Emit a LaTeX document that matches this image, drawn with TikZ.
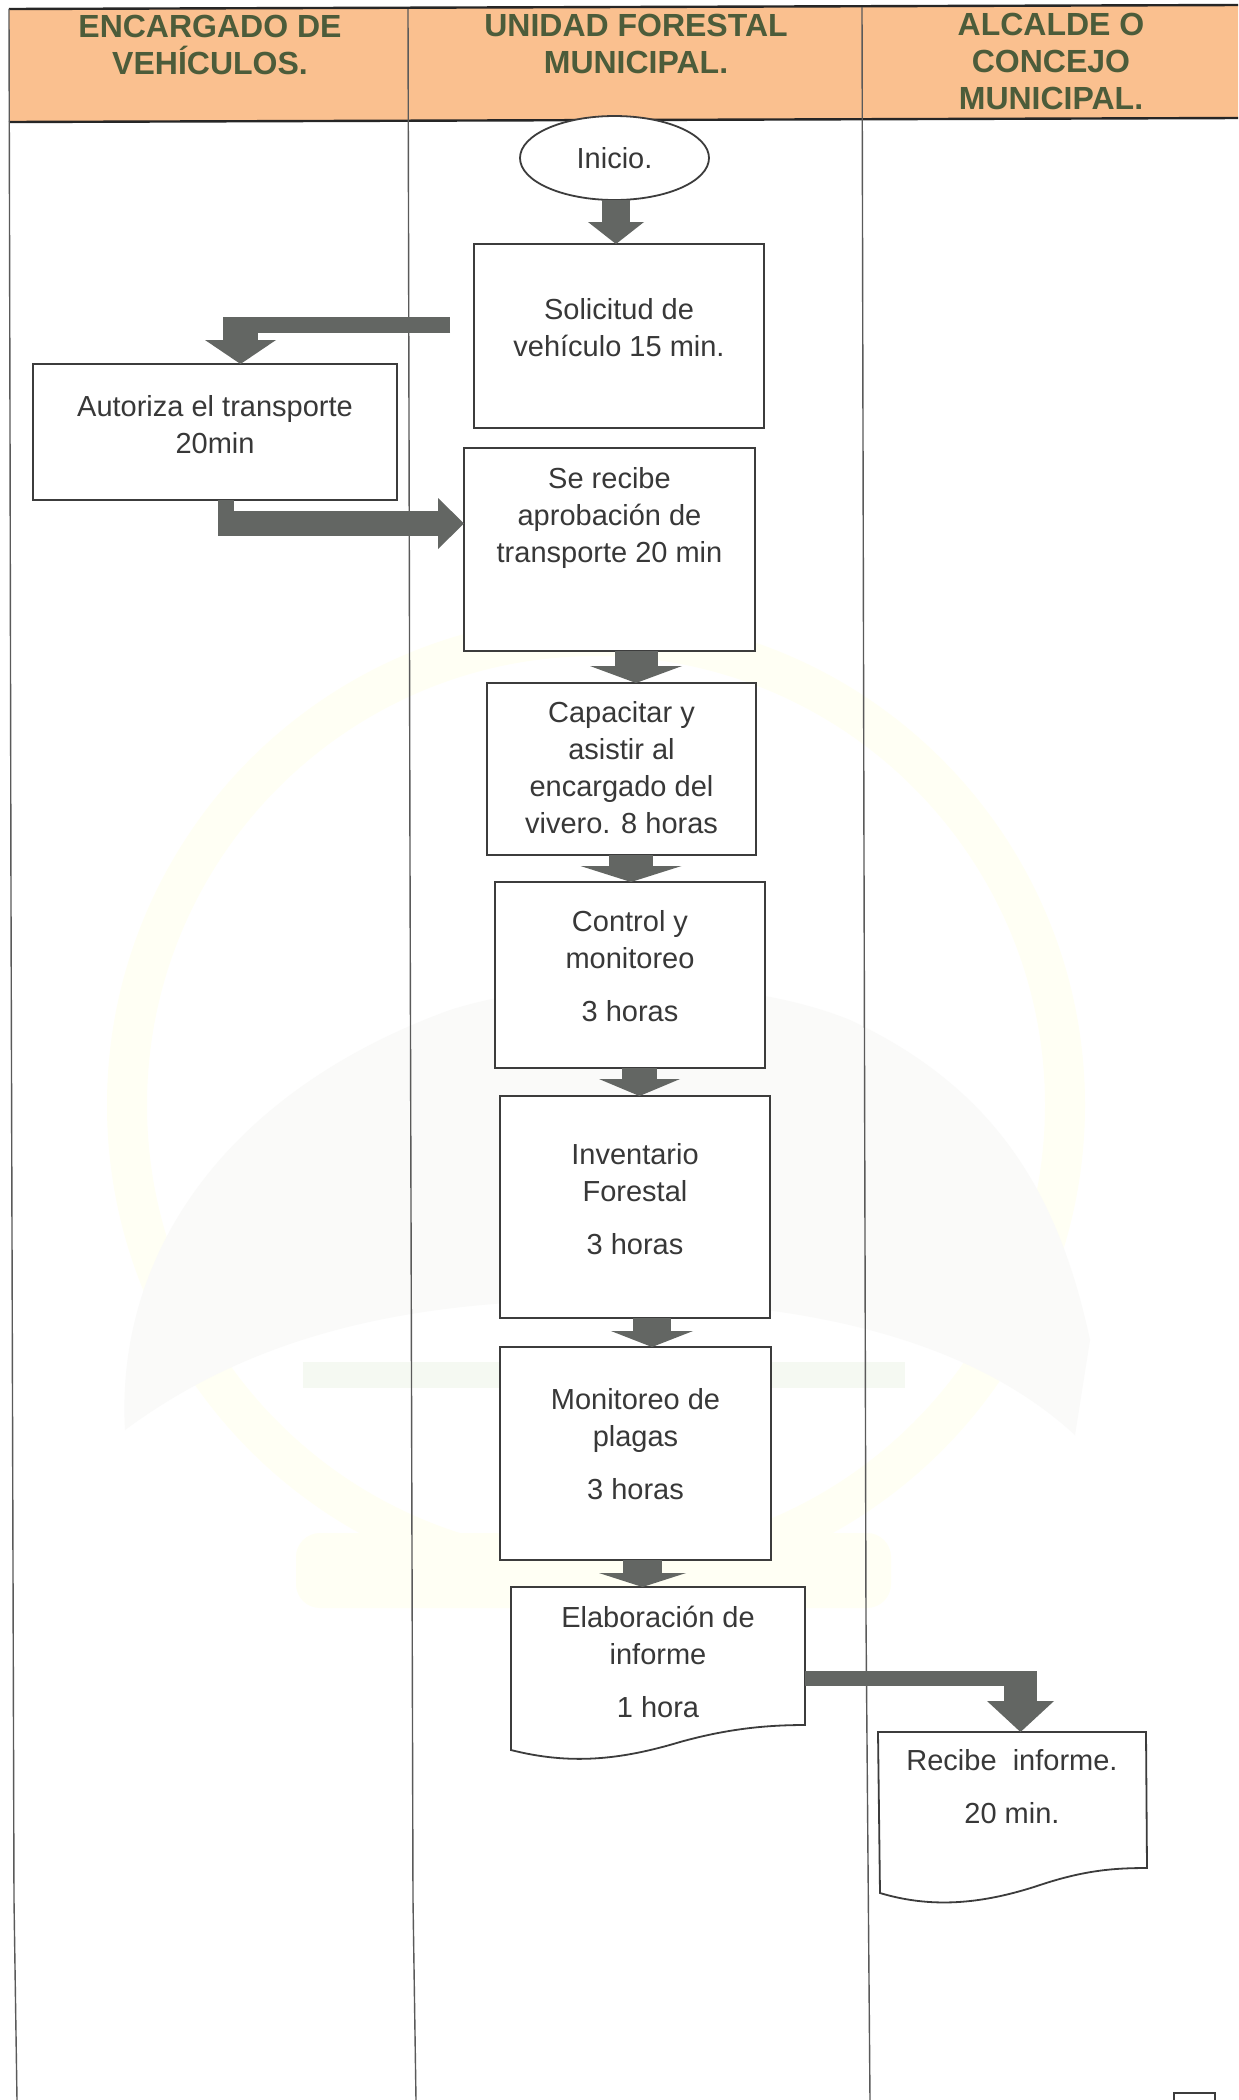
\documentclass[tikz,border=0pt]{standalone}
\usepackage{fontspec}
\setmainfont{Liberation Sans}
\usetikzlibrary{arrows.meta,shapes.geometric}
\definecolor{peach}{HTML}{FAC08F}
\definecolor{headtxt}{HTML}{4C5C3A}
\definecolor{bodytxt}{HTML}{383838}
\definecolor{flowgray}{HTML}{636663}
\definecolor{boxline}{HTML}{3C3C3C}
\definecolor{laneline}{HTML}{5A5A5A}
\definecolor{wmring}{HTML}{FFFFF4}
\definecolor{wmgray}{HTML}{FAFAF9}
\definecolor{wmgreen}{HTML}{F5F9F2}
\newcommand\tb[4]{\begin{minipage}[t][#2pt][t]{#1pt}\centering\vspace*{#3pt}\rule{0pt}{10pt}#4\end{minipage}}
\tikzset{
  x=0.5pt,y=-0.5pt,
  bodyfont/.style={font=\fontsize{14.5}{18.5}\selectfont,text=bodytxt},
  procbox/.style={bodyfont,draw=boxline,line width=0.9pt,fill=white,inner sep=0pt,outer sep=0pt,anchor=north west},
  doctext/.style={bodyfont,inner sep=0pt,outer sep=0pt,anchor=north west},
  docshape/.style={draw=boxline,line width=0.9pt,fill=white},
  startnode/.style={bodyfont,draw=boxline,line width=0.9pt,fill=white,ellipse,inner sep=0pt,outer sep=0pt,minimum width=94.5pt,minimum height=42pt},
  headtext/.style={font=\fontsize{16}{18.5}\selectfont\bfseries,text=headtxt,align=center,inner sep=0pt},
  lane/.style={draw=laneline,line width=0.7pt},
  headrule/.style={draw=black!85,line width=1.2pt},
  blockflow/.style n args={3}{draw=flowgray,line width=#1,line cap=butt,-{Triangle[length=#2,width=#3,line width=0pt]}},
  blockbar/.style={draw=flowgray,line width=#1,line cap=butt},
}
\begin{document}
\begin{tikzpicture}
\useasboundingbox (0,0) rectangle (1238,2100);
\fill[white] (0,0) rectangle (1238,2100);
% watermark
\draw[wmring,line width=20pt] (596,1105) circle[radius=469];
\fill[wmgray] (125,1430) .. controls (115,1250) and (230,1090) .. (450,1010)
  .. controls (560,975) and (740,975) .. (850,1020)
  .. controls (1000,1090) and (1060,1200) .. (1090,1340) -- (1075,1435)
  .. controls (950,1320) and (750,1300) .. (600,1300)
  .. controls (420,1300) and (260,1330) .. (125,1430) -- cycle;
\fill[wmgreen] (303,1362) rectangle (905,1388);
\fill[wmring,rounded corners=12pt] (296,1533) rectangle (891,1608);
% header
\fill[peach] (9,9) -- (1238,5) -- (1238,118) -- (9,122) -- cycle;
\draw[headrule] (9,9) -- (1238,5);
\draw[headrule] (9,122) -- (1238,118);
% lanes
\draw[lane] (9,9) -- (10,420) -- (11,900) -- (14,1900) -- (17,2100);
\draw[lane] (408,9) -- (409,420) -- (410,860) -- (413,1900) -- (416,2100);
\draw[lane] (862,7) -- (864,860) -- (866,1620) -- (870,2100);
\node[headtext] (h1) at (210,45) {ENCARGADO DE\\VEHÍCULOS.};
\node[headtext] (h2) at (636,44) {UNIDAD FORESTAL\\MUNICIPAL.};
\node[headtext] (h3) at (1051,61) {ALCALDE O\\CONCEJO\\MUNICIPAL.};
% nodes
\node[startnode] (inicio) at (614.5,158) {Inicio.};
\node[procbox] (sol) at (474,244) {\tb{145}{92}{27}{Solicitud de\\vehículo 15 min.}};
\node[procbox] (aut) at (33,364) {\tb{182}{68}{15.5}{Autoriza el transporte\\20min}};
\node[procbox] (rec) at (464,448) {\tb{145.5}{101.5}{9.5}{Se recibe\\aprobación de\\transporte 20 min}};
\node[procbox] (cap) at (487,683) {\tb{134.5}{86}{9}{Capacitar y\\asistir al\\encargado del\\vivero. 8 horas}};
\node[procbox] (con) at (495,882) {\tb{135}{93}{14}{Control y\\monitoreo\\[8pt]3 horas}};
\node[procbox] (inv) at (500,1096) {\tb{135}{111}{23.5}{Inventario\\Forestal\\[8pt]3 horas}};
\node[procbox] (mon) at (500,1347) {\tb{135.5}{106.5}{20.5}{Monitoreo de\\plagas\\[8pt]3 horas}};
\draw[docshape] (511,1587) -- (805,1587) -- (805,1725)
  .. controls (770,1725) and (730,1728) .. (680,1742)
  .. controls (620,1760) and (570,1765) .. (511,1750) -- cycle;
\node[doctext] (ela) at (511,1587) {\tb{147}{85.5}{9.5}{Elaboración de\\informe\\[8pt]1 hora}};
\draw[docshape] (878,1732) -- (1146,1732) -- (1147,1868)
  .. controls (1115,1868) and (1085,1870) .. (1040,1885)
  .. controls (980,1905) and (930,1908) .. (880,1893) -- cycle;
\node[doctext] (inf) at (878,1732) {\tb{134}{84.5}{8.5}{Recibe\ \ informe.\\[8pt]20 min.}};
% free ends and bends of the block connectors
\coordinate (a2start) at (450,325);
\coordinate (a2bend) at (240.5,325);
\coordinate (a2top) at (240.5,317);
\coordinate (a3low) at (226,536);
\coordinate (a3bend) at (218,523.5);
\coordinate (a9bend) at (1020.5,1678.5);
\coordinate (a9top) at (1020.5,1671);
% connectors
\draw[blockflow={14pt}{11pt}{28pt}] ([xshift=0.75pt]inicio.south) -- ([xshift=-1.5pt]sol.north);
\draw[blockbar=8pt] (a2start) -- (a2bend);
\draw[blockflow={17.5pt}{12pt}{35.5pt}] (a2top) -- ([xshift=12.75pt]aut.north);
\draw[blockbar=8pt] ([xshift=5.5pt]aut.south) -- (a3low);
\draw[blockflow={12.5pt}{13pt}{25.5pt}] (a3bend) -- ([yshift=13pt]rec.west);
\draw[blockflow={21.5pt}{8.5pt}{46pt}] ([xshift=13.25pt]rec.south) -- ([xshift=7.25pt]cap.north);
\draw[blockflow={22pt}{8pt}{50.5pt}] ([xshift=4.75pt]cap.south) -- ([xshift=0.5pt]con.north);
\draw[blockflow={17.5pt}{8.5pt}{40.5pt}] ([xshift=4.75pt]con.south) -- ([xshift=2.25pt]inv.north);
\draw[blockflow={19pt}{8pt}{41pt}] ([xshift=8.5pt]inv.south) -- ([xshift=8.25pt]mon.north);
\draw[blockflow={19.5pt}{7pt}{43.5pt}] ([xshift=3.5pt]mon.south) -- ([xshift=-7.75pt]ela.north);
\draw[blockbar=7.5pt] ([yshift=-3pt]ela.east) -- (a9bend);
\draw[blockflow={16.5pt}{15.5pt}{33.5pt}] (a9top) -- ([xshift=4.25pt]inf.north);
% fragment at the bottom edge
\draw[draw=boxline,line width=1pt] (1174,2100) -- (1174,2093) -- (1215,2093) -- (1215,2100);
\end{tikzpicture}
\end{document}
